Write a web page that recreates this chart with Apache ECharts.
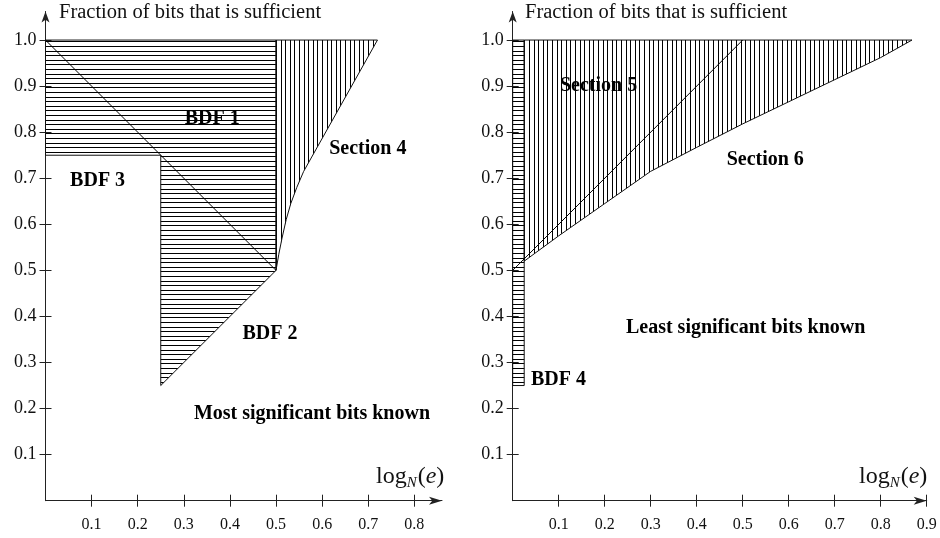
<!DOCTYPE html>
<html>
<head>
<meta charset="utf-8">
<script src="https://cdn.jsdelivr.net/npm/echarts@6/dist/echarts.min.js"></script>
<style>
  html, body { margin: 0; padding: 0; background: #fff; }
  #chart { width: 940px; height: 538px; }
</style>
</head>
<body>
<div id="chart"></div>
<script>
// tick values
const leftXTicks = [0.1, 0.2, 0.3, 0.4, 0.5, 0.6, 0.7, 0.8];
const rightXTicks = [0.1, 0.2, 0.3, 0.4, 0.5, 0.6, 0.7, 0.8, 0.9];
const yTicks = [0.1, 0.2, 0.3, 0.4, 0.5, 0.6, 0.7, 0.8, 0.9, 1.0];

// left panel: most significant bits known
const bdf123Region = [[0, 1], [0.5, 1], [0.5, 0.5], [0.25, 0.25], [0.25, 0.75], [0, 0.75]];
const section4Region = [[0.5, 1], [0.72, 1], [0.56, 0.715], [0.545, 0.68], [0.532, 0.645], [0.522, 0.61], [0.513, 0.57], [0.506, 0.535], [0.5, 0.5]];
const leftDiagonal = [[0, 1], [0.5, 0.5]];
const leftLabels = [
  [0.3615, 0.829, 'BDF 1'],
  [0.699, 0.764, 'Section 4'],
  [0.113, 0.695, 'BDF 3'],
  [0.487, 0.362, 'BDF 2'],
  [0.578, 0.188, 'Most significant bits known']
];

// right panel: least significant bits known
const bdf4Region = [[0, 0.25], [0.025, 0.25], [0.025, 1], [0, 1]];
const section56Region = [[0.025, 1], [0.868, 1], [0.8, 0.962], [0.7, 0.914], [0.6, 0.866], [0.5, 0.818], [0.4, 0.767], [0.3, 0.715], [0.2, 0.645], [0.1, 0.575], [0.025, 0.52]];
const rightDiagonal = [[0, 0.5], [0.5, 1]];
const rightLabels = [
  [0.1866, 0.901, 'Section 5'],
  [0.549, 0.7395, 'Section 6'],
  [0.5065, 0.376, 'Least significant bits known'],
  [0.0996, 0.262, 'BDF 4']
];

const serif = '"Liberation Serif", "DejaVu Serif", serif';
const axisColor = '#222';

function hatch(vertical) {
  const c = document.createElement('canvas');
  c.width = c.height = 23;
  const ctx = c.getContext('2d');
  ctx.fillStyle = '#000';
  [0, 5, 9, 14, 18].forEach((p) => {
    if (vertical) ctx.fillRect(p, 0, 1, 23);
    else ctx.fillRect(0, p, 23, 1);
  });
  return { image: c, repeat: 'repeat' };
}
const hHatch = hatch(false);
const vHatch = hatch(true);

function regionSeries(points, fill, grid) {
  return {
    type: 'custom',
    xAxisIndex: grid * 2,
    yAxisIndex: grid * 2,
    data: points,
    encode: { x: 0, y: 1 },
    z: 2,
    renderItem(params, api) {
      if (params.dataIndex !== 0) return null;
      return {
        type: 'polygon',
        shape: { points: points.map((p) => api.coord(p)) },
        style: { fill, stroke: '#111', lineWidth: 1 }
      };
    }
  };
}

function lineSeries(points, grid) {
  return {
    type: 'line',
    xAxisIndex: grid * 2,
    yAxisIndex: grid * 2,
    data: points,
    symbol: 'none',
    z: 3,
    lineStyle: { color: '#000', width: 1 }
  };
}

function labelSeries(items, grid) {
  return {
    type: 'scatter',
    xAxisIndex: grid * 2,
    yAxisIndex: grid * 2,
    data: items,
    symbolSize: 1,
    z: 4,
    itemStyle: { opacity: 1, color: 'rgba(0,0,0,0)' },
    label: {
      show: true,
      position: 'inside',
      formatter: (p) => p.value[2],
      fontFamily: serif,
      fontWeight: 'bold',
      fontSize: 20,
      color: '#000',
      opacity: 1,
      textBorderWidth: 0
    }
  };
}

function xAxes(grid, max, ticks) {
  return [
    {
      type: 'value', gridIndex: grid, min: 0, max, position: 'bottom',
      axisLine: { show: true, symbol: ['none', 'arrow'], symbolSize: [6, 13], lineStyle: { color: axisColor, width: 1 } },
      axisTick: { show: true, length: 6, customValues: ticks, lineStyle: { color: axisColor } },
      axisLabel: { customValues: ticks, margin: 16, fontFamily: serif, fontSize: 16, color: '#111', formatter: (v) => v.toFixed(1) },
      splitLine: { show: false }
    },
    {
      type: 'value', gridIndex: grid, min: 0, max, position: 'bottom',
      axisLine: { show: false },
      axisTick: { show: true, inside: true, length: 6, customValues: ticks, lineStyle: { color: axisColor } },
      axisLabel: { show: false },
      splitLine: { show: false }
    }
  ];
}

function yAxes(grid) {
  return [
    {
      type: 'value', gridIndex: grid, min: 0, max: 1.062, position: 'left',
      axisLine: { show: true, symbol: ['none', 'arrow'], symbolSize: [6, 11], lineStyle: { color: axisColor, width: 1 } },
      axisTick: { show: true, length: 6, customValues: yTicks, lineStyle: { color: axisColor } },
      axisLabel: { customValues: yTicks, margin: 9, fontFamily: serif, fontSize: 18, color: '#111', formatter: (v) => v.toFixed(1) },
      splitLine: { show: false }
    },
    {
      type: 'value', gridIndex: grid, min: 0, max: 1.062, position: 'left',
      axisLine: { show: false },
      axisTick: { show: true, inside: true, length: 6, customValues: yTicks, lineStyle: { color: axisColor } },
      axisLabel: { show: false },
      splitLine: { show: false }
    }
  ];
}

const logRich = {
  a: { fontFamily: serif, fontSize: 24, fontWeight: 'normal', color: '#111', lineHeight: 27 },
  s: { fontFamily: serif, fontSize: 15, fontWeight: 'normal', fontStyle: 'italic', color: '#111', lineHeight: 15, padding: [14, 1, 0, 0] },
  e: { fontFamily: serif, fontSize: 24, fontWeight: 'normal', fontStyle: 'italic', color: '#111', lineHeight: 27 }
};
const logText = '{a|log}{s|N}{a|(}{e|e}{a|)}';
const titleStyle = { fontFamily: serif, fontSize: 20.5, fontWeight: 'normal', color: '#111' };

const chart = echarts.init(document.getElementById('chart'));
chart.setOption({
  animation: false,
  backgroundColor: '#fff',
  title: [
    { text: 'Fraction of bits that is sufficient', left: 54, top: -3, textStyle: titleStyle },
    { text: 'Fraction of bits that is sufficient', left: 520, top: -3, textStyle: titleStyle },
    { text: logText, left: 371, top: 458, textStyle: { fontWeight: 'normal', rich: logRich } },
    { text: logText, left: 854, top: 458, textStyle: { fontWeight: 'normal', rich: logRich } }
  ],
  grid: [
    { left: 45.5, top: 11.5, width: 396.5, height: 489.2 },
    { left: 512.7, top: 11.5, width: 414, height: 489.2 }
  ],
  xAxis: [...xAxes(0, 0.86, leftXTicks), ...xAxes(1, 0.9, rightXTicks)],
  yAxis: [...yAxes(0), ...yAxes(1)],
  series: [
    regionSeries(bdf123Region, hHatch, 0),
    regionSeries(section4Region, vHatch, 0),
    lineSeries(leftDiagonal, 0),
    labelSeries(leftLabels, 0),
    regionSeries(bdf4Region, hHatch, 1),
    regionSeries(section56Region, vHatch, 1),
    lineSeries(rightDiagonal, 1),
    labelSeries(rightLabels, 1)
  ]
});
</script>
</body>
</html>
